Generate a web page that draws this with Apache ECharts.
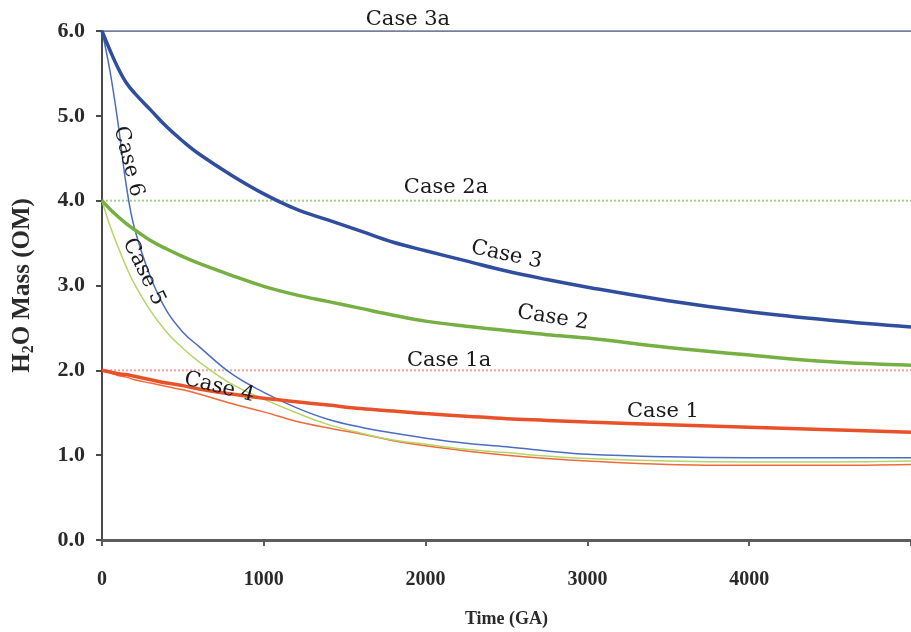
<!DOCTYPE html>
<html>
<head>
<meta charset="utf-8">
<title>H2O Mass vs Time</title>
<script src="https://cdn.jsdelivr.net/npm/echarts@6/dist/echarts.min.js"></script>
<style>
  html, body { margin: 0; padding: 0; background: #ffffff; }
  #chart { width: 911px; height: 632px; }
</style>
</head>
<body>
<div id="chart"></div>
<script>
// Time samples (GA) shared by all evolving cases
const years = [0, 50, 100, 150, 200, 300, 400, 500, 600, 800, 1000, 1200, 1400, 1600, 1800,
               2000, 2250, 2500, 2750, 3000, 3500, 4000, 4500, 5000];

// Water inventory (ocean masses) for each case
const case1 = [2.00, 1.98, 1.96, 1.95, 1.93, 1.89, 1.85, 1.82, 1.78, 1.72, 1.67, 1.63, 1.59, 1.55, 1.52,
               1.49, 1.46, 1.43, 1.41, 1.39, 1.36, 1.33, 1.30, 1.27];
const case2 = [4.00, 3.90, 3.81, 3.73, 3.66, 3.53, 3.43, 3.34, 3.26, 3.12, 2.99, 2.89, 2.81, 2.73, 2.65,
               2.58, 2.52, 2.47, 2.42, 2.38, 2.27, 2.18, 2.10, 2.06];
const case3 = [6.00, 5.77, 5.56, 5.39, 5.27, 5.07, 4.87, 4.70, 4.55, 4.30, 4.08, 3.90, 3.77, 3.64, 3.51,
               3.41, 3.29, 3.17, 3.07, 2.98, 2.82, 2.69, 2.59, 2.51];
const case4 = [2.00, 1.97, 1.94, 1.92, 1.89, 1.85, 1.81, 1.77, 1.72, 1.61, 1.51, 1.40, 1.32, 1.25, 1.17,
               1.11, 1.05, 1.00, 0.96, 0.93, 0.89, 0.88, 0.88, 0.89];
const case5 = [4.00, 3.70, 3.45, 3.22, 3.02, 2.70, 2.45, 2.26, 2.10, 1.84, 1.66, 1.50, 1.36, 1.26, 1.18,
               1.13, 1.07, 1.03, 0.99, 0.96, 0.93, 0.92, 0.92, 0.93];
const case6 = [6.00, 5.52, 4.90, 4.18, 3.68, 3.10, 2.70, 2.45, 2.28, 1.96, 1.74, 1.56, 1.42, 1.33, 1.26,
               1.20, 1.14, 1.10, 1.05, 1.01, 0.98, 0.97, 0.97, 0.97];

// Constant-inventory cases
const case1aLevel = 2.0;
const case2aLevel = 4.0;
const case3aLevel = 6.0;
const timeSpan = [0, 5000];

// Axis ticks
const yTicks = [0, 1, 2, 3, 4, 5, 6];
const xTicks = [0, 1000, 2000, 3000, 4000];

// Curve annotations: text and anchor in data coordinates
const noteText = ['Case 3a', 'Case 2a', 'Case 1a', 'Case 3', 'Case 2', 'Case 1', 'Case 4', 'Case 5', 'Case 6'];
const noteTime = [1891, 2126, 2145, 2500, 2787, 3467, 725, 258, 163];
const noteMass = [6.13, 4.15, 2.12, 3.36, 2.62, 1.51, 1.80, 3.16, 4.46];
const noteAngle = [0, 0, 0, -12, -9, 0, -14, -64, -76];

const pair = (xs, ys) => xs.map((x, i) => [x, ys[i]]);
const flat = (v) => timeSpan.map(x => [x, v]);

const SERIF = '"Liberation Serif", "Times New Roman", serif';
const WIDE_SERIF = '"DejaVu Serif", "Liberation Serif", serif';

function curve(name, values, color, width, z) {
  return {
    name, type: 'line', data: pair(years, values),
    showSymbol: false, smooth: 0.4, z,
    lineStyle: { color, width }
  };
}
function level(name, v, color, type, width) {
  return {
    name, type: 'line', data: flat(v), showSymbol: false, z: 1,
    lineStyle: { color, width, type }
  };
}

const chart = echarts.init(document.getElementById('chart'), null, { renderer: 'canvas' });

chart.setOption({
  backgroundColor: '#ffffff',
  animation: false,
  grid: { left: 102, right: 0, top: 31, bottom: 92, containLabel: false, outerBoundsMode: 'none' },
  xAxis: {
    type: 'value', min: 0, max: 5000, interval: 1000,
    name: 'Time (GA)', nameLocation: 'middle', nameGap: 70,
    nameTextStyle: { fontFamily: SERIF, fontWeight: 'bold', fontSize: 18, color: '#2a2a2a' },
    axisLine: { lineStyle: { color: '#5c5c5c', width: 3 } },
    axisTick: { show: true, inside: false, length: 6, lineStyle: { color: '#5c5c5c', width: 2 } },
    axisLabel: {
      margin: 30, fontFamily: SERIF, fontWeight: 'bold', fontSize: 20, color: '#2a2a2a',
      formatter: v => (xTicks.indexOf(v) >= 0 ? String(v) : '')
    },
    splitLine: { show: false }
  },
  yAxis: {
    type: 'value', min: 0, max: 6, interval: 1,
    name: '{b|H}{s|2}{b|O Mass (OM)}', nameLocation: 'middle', nameGap: 65,
    nameTextStyle: {
      rich: {
        b: { fontFamily: SERIF, fontWeight: 'bold', fontSize: 25, color: '#2a2a2a' },
        s: { fontFamily: SERIF, fontWeight: 'bold', fontSize: 16, color: '#2a2a2a', padding: [12, 0, 0, 0] }
      }
    },
    axisLine: { show: true, lineStyle: { color: '#4a4a4a', width: 2 } },
    axisTick: { show: true, inside: false, length: 6, lineStyle: { color: '#4a4a4a', width: 2 } },
    axisLabel: {
      margin: 17, fontFamily: SERIF, fontWeight: 'bold', fontSize: 22, color: '#2a2a2a',
      formatter: v => (yTicks.indexOf(v) >= 0 ? v.toFixed(1) : '')
    },
    splitLine: { show: false }
  },
  series: [
    level('Case 3a', case3aLevel, '#4b5675', 'solid', 1.5),
    level('Case 2a', case2aLevel, '#a9d08a', 'dotted', 2),
    level('Case 1a', case1aLevel, '#f2a39a', 'dotted', 2),
    curve('Case 4', case4, '#f06a3c', 1.5, 2),
    curve('Case 5', case5, '#b5d567', 1.5, 2),
    curve('Case 6', case6, '#4a6cc2', 1.5, 2),
    curve('Case 1', case1, '#e8522a', 3.5, 3),
    curve('Case 2', case2, '#76b043', 3.5, 3),
    curve('Case 3', case3, '#2f4e9e', 3.5, 3),
    {
      name: 'notes', type: 'scatter', symbolSize: 0, clip: false, z: 5,
      itemStyle: { opacity: 1 },
      data: noteText.map((t, i) => ({
        value: [noteTime[i], noteMass[i]],
        name: t,
        label: { rotate: noteAngle[i] }
      })),
      label: {
        show: true, position: 'inside', opacity: 1,
        formatter: p => p.name,
        fontFamily: WIDE_SERIF, fontSize: 21, color: '#1a1a1a'
      },
      silent: true
    }
  ]
});
</script>
</body>
</html>
